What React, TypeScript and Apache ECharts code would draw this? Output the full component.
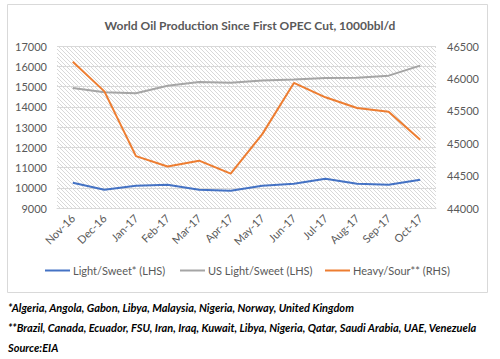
import React, { useEffect, useRef } from "react";
import * as echarts from "echarts";

const months = ["Nov-16","Dec-16","Jan-17","Feb-17","Mar-17","Apr-17","May-17","Jun-17","Jul-17","Aug-17","Sep-17","Oct-17"];
const lightSweet = [10250, 9900, 10100, 10150, 9905, 9855, 10100, 10200, 10447, 10200, 10150, 10400];
const usLightSweet = [14930, 14720, 14670, 15040, 15220, 15190, 15300, 15350, 15420, 15435, 15535, 16030];
const heavySour = [46258, 45800, 44800, 44640, 44730, 44530, 45140, 45930, 45708, 45543, 45486, 45054];

const leftMin = 9000, leftMax = 17000, leftStep = 1000;
const rightMin = 44000, rightMax = 46500, rightStep = 500;

const title = "World Oil Production Since First OPEC Cut, 1000bbl/d";
const notes = [
  "*Algeria, Angola, Gabon, Libya, Malaysia, Nigeria, Norway, United Kingdom",
  "**Brazil, Canada, Ecuador, FSU, Iran, Iraq, Kuwait, Libya, Nigeria, Qatar, Saudi Arabia, UAE, Venezuela",
  "Source:EIA",
];
const names = ["Light/Sweet* (LHS)", "US Light/Sweet (LHS)", "Heavy/Sour** (RHS)"];
const colors = ["#4472C4", "#A5A5A5", "#ED7D31"];

const FONT = "Lato";
const hatch =
  "data:image/svg+xml;charset=utf-8," +
  encodeURIComponent(
    "<svg xmlns='http://www.w3.org/2000/svg' width='4' height='4'><path d='M-1,-1 L5,5 M-1,3 L1,5 M3,-1 L5,1' stroke='#d4d4d4' stroke-width='0.9'/></svg>"
  );

export default function App() {
  const ref = useRef<HTMLDivElement>(null);
  useEffect(() => {
    document.body.style.margin = "0";
    const chart = echarts.init(ref.current!, null, { renderer: "svg" });
    const legendPos = [45, 180, 325];
    chart.setOption({
      animation: false,
      backgroundColor: "#ffffff",
      textStyle: { fontFamily: FONT },
      title: {
        text: title,
        left: "center",
        top: 14,
        textStyle: { fontFamily: FONT, fontSize: 12, fontWeight: "bold", color: "#595959" },
      },
      legend: names.map((n, i) => ({
        data: [{ name: n, icon: "rect" }],
        left: legendPos[i],
        top: 265,
        itemWidth: 25,
        itemHeight: 2,
        itemGap: 0,
        textStyle: { fontFamily: FONT, fontSize: 11, color: "#595959", padding: [0, 0, 0, -2] },
        padding: 0,
      })),
      grid: {
        left: 57,
        right: 64,
        top: 46,
        bottom: 151,
        show: true,
        borderWidth: 0,
        backgroundColor: { image: hatch, repeat: "repeat", imageWidth: 4, imageHeight: 4 },
      },
      xAxis: {
        type: "category",
        data: months,
        boundaryGap: true,
        axisLine: { lineStyle: { color: "#d9d9d9" } },
        axisTick: { show: false },
        axisLabel: { rotate: 45, color: "#595959", fontSize: 11, fontFamily: FONT, margin: 8, interval: 0 },
      },
      yAxis: [
        {
          type: "value",
          min: leftMin,
          max: leftMax,
          interval: leftStep,
          axisLine: { show: false },
          axisTick: { show: false },
          splitLine: { lineStyle: { color: "#d9d9d9" } },
          axisLabel: { color: "#595959", fontSize: 11, fontFamily: FONT, margin: 10, formatter: (v: number) => String(v) },
        },
        {
          type: "value",
          min: rightMin,
          max: rightMax,
          interval: rightStep,
          axisLine: { show: false },
          axisTick: { show: false },
          splitLine: { show: false },
          axisLabel: { color: "#595959", fontSize: 11, fontFamily: FONT, margin: 11, formatter: (v: number) => String(v) },
        },
      ],
      series: [
        { name: names[0], type: "line", data: lightSweet, yAxisIndex: 0, symbol: "none", lineStyle: { width: 2, color: colors[0] }, itemStyle: { color: colors[0] } },
        { name: names[1], type: "line", data: usLightSweet, yAxisIndex: 0, symbol: "none", lineStyle: { width: 2, color: colors[1] }, itemStyle: { color: colors[1] } },
        { name: names[2], type: "line", data: heavySour, yAxisIndex: 1, symbol: "none", lineStyle: { width: 2, color: colors[2] }, itemStyle: { color: colors[2] } },
      ],
      graphic: [
        { type: "rect", shape: { x: 7.5, y: 4.5, width: 480, height: 288 }, style: { fill: "none", stroke: "#d9d9d9", lineWidth: 1 }, silent: true },
        ...notes.map((t, i) => ({
          type: "text",
          left: 8,
          top: 302 + i * 20,
          style: { text: t, font: `italic bold 11px ${FONT}`, fill: "#000000" },
        })),
      ],
    });
    return () => chart.dispose();
  }, []);
  return <div ref={ref} style={{ width: 500, height: 359 }} />;
}
